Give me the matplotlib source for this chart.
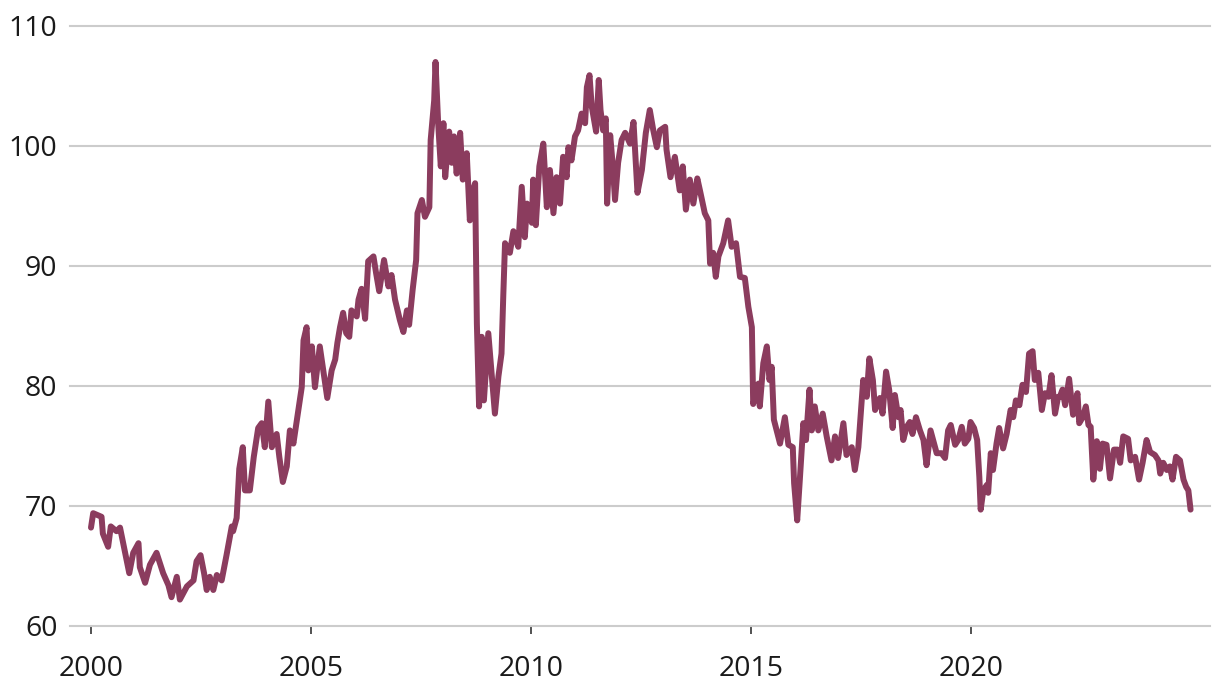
import matplotlib
matplotlib.use("Agg")
import matplotlib.pyplot as plt

# decimal year of each reading, and the index value
dates = [
    2000.00, 2000.05, 2000.24, 2000.27, 2000.39, 2000.45, 2000.58, 2000.66, 2000.87, 2000.96,
    2001.08, 2001.11, 2001.23, 2001.34, 2001.49, 2001.64, 2001.76, 2001.83, 2001.95, 2002.02,
    2002.18, 2002.33, 2002.40, 2002.49, 2002.57, 2002.63, 2002.70, 2002.78, 2002.86, 2002.97,
    2003.08, 2003.20, 2003.23, 2003.31, 2003.37, 2003.45, 2003.50, 2003.61, 2003.70, 2003.80,
    2003.88, 2003.95, 2004.03, 2004.11, 2004.22, 2004.28, 2004.36, 2004.45, 2004.52, 2004.60,
    2004.68, 2004.79, 2004.83, 2004.90, 2004.94, 2005.02, 2005.09, 2005.20, 2005.28, 2005.37,
    2005.47, 2005.55, 2005.60, 2005.66, 2005.73, 2005.80, 2005.87, 2005.92, 2006.04, 2006.08,
    2006.15, 2006.23, 2006.30, 2006.42, 2006.48, 2006.55, 2006.66, 2006.76, 2006.83, 2006.91,
    2007.02, 2007.10, 2007.18, 2007.23, 2007.31, 2007.39, 2007.42, 2007.52, 2007.59, 2007.69,
    2007.72, 2007.80, 2007.83, 2007.89, 2007.95, 2008.01, 2008.05, 2008.14, 2008.20, 2008.25,
    2008.31, 2008.39, 2008.45, 2008.54, 2008.61, 2008.68, 2008.73, 2008.77, 2008.82, 2008.88,
    2008.93, 2009.03, 2009.11, 2009.18, 2009.26, 2009.33, 2009.37, 2009.41, 2009.52, 2009.60,
    2009.71, 2009.79, 2009.86, 2009.91, 2010.02, 2010.05, 2010.11, 2010.19, 2010.28, 2010.36,
    2010.43, 2010.51, 2010.58, 2010.66, 2010.73, 2010.81, 2010.85, 2010.92, 2011.00, 2011.07,
    2011.15, 2011.23, 2011.27, 2011.33, 2011.38, 2011.48, 2011.54, 2011.58, 2011.64, 2011.70,
    2011.73, 2011.80, 2011.86, 2011.91, 2011.98, 2012.06, 2012.14, 2012.25, 2012.33, 2012.42,
    2012.52, 2012.61, 2012.70, 2012.78, 2012.86, 2012.93, 2013.05, 2013.08, 2013.17, 2013.27,
    2013.38, 2013.45, 2013.52, 2013.61, 2013.69, 2013.78, 2013.84, 2013.95, 2014.03, 2014.07,
    2014.14, 2014.20, 2014.26, 2014.37, 2014.48, 2014.56, 2014.66, 2014.75, 2014.86, 2014.94,
    2015.02, 2015.05, 2015.17, 2015.20, 2015.28, 2015.36, 2015.42, 2015.47, 2015.52, 2015.66,
    2015.77, 2015.85, 2015.95, 2015.98, 2016.05, 2016.11, 2016.19, 2016.25, 2016.33, 2016.38,
    2016.45, 2016.53, 2016.63, 2016.72, 2016.83, 2016.91, 2016.98, 2017.10, 2017.17, 2017.29,
    2017.36, 2017.44, 2017.55, 2017.63, 2017.69, 2017.77, 2017.82, 2017.93, 2017.99, 2018.07,
    2018.14, 2018.22, 2018.27, 2018.35, 2018.40, 2018.46, 2018.54, 2018.61, 2018.67, 2018.75,
    2018.84, 2018.92, 2018.99, 2019.08, 2019.16, 2019.22, 2019.33, 2019.41, 2019.48, 2019.54,
    2019.64, 2019.71, 2019.79, 2019.86, 2019.94, 2019.99, 2020.07, 2020.14, 2020.19, 2020.22,
    2020.28, 2020.36, 2020.39, 2020.45, 2020.50, 2020.58, 2020.64, 2020.73, 2020.81, 2020.90,
    2020.96, 2021.02, 2021.10, 2021.17, 2021.25, 2021.32, 2021.40, 2021.45, 2021.53, 2021.61,
    2021.68, 2021.76, 2021.83, 2021.91, 2021.98, 2022.02, 2022.08, 2022.14, 2022.23, 2022.32,
    2022.42, 2022.46, 2022.54, 2022.61, 2022.67, 2022.72, 2022.78, 2022.86, 2022.93, 2022.99,
    2023.08, 2023.16, 2023.25, 2023.33, 2023.39, 2023.46, 2023.57, 2023.63, 2023.73, 2023.82,
    2023.90, 2023.99, 2024.07, 2024.18, 2024.26, 2024.30, 2024.37, 2024.45, 2024.52, 2024.58,
    2024.66, 2024.75, 2024.83, 2024.89, 2024.94, 2024.99,
]
values = [
    68.2, 69.4, 69.1, 67.7, 66.6, 68.3, 67.9, 68.2, 64.4, 66.1,
    66.9, 64.9, 63.6, 65.1, 66.1, 64.4, 63.4, 62.4, 64.1, 62.2,
    63.3, 63.8, 65.4, 65.9, 64.4, 63.0, 64.1, 63.0, 64.25, 63.8,
    65.9, 68.3, 67.9, 69.0, 73.1, 74.9, 71.3, 71.3, 74.1, 76.5,
    76.9, 74.9, 78.7, 74.9, 76.0, 74.1, 72.0, 73.3, 76.3, 75.2,
    77.2, 79.9, 83.8, 84.9, 81.3, 83.3, 79.9, 83.3, 81.3, 79.0,
    81.3, 82.2, 83.6, 84.9, 86.1, 84.4, 84.1, 86.3, 85.8, 87.2,
    88.1, 85.6, 90.4, 90.8, 89.4, 87.9, 90.5, 88.3, 89.25, 87.2,
    85.5, 84.5, 86.3, 85.1, 88.0, 90.5, 94.4, 95.5, 94.1, 94.9,
    100.5, 103.8, 107.0, 101.9, 98.3, 101.9, 97.4, 101.2, 98.6, 100.8,
    97.7, 101.1, 97.2, 99.4, 93.8, 96.3, 96.9, 85.2, 78.3, 84.1,
    78.8, 84.4, 80.8, 77.7, 80.8, 82.7, 87.5, 91.9, 91.1, 92.9,
    91.6, 96.6, 92.4, 95.2, 93.6, 97.2, 93.4, 98.3, 100.2, 94.9,
    98.0, 94.4, 97.4, 95.2, 99.1, 97.4, 99.9, 98.8, 100.8, 101.3,
    102.7, 101.9, 104.9, 105.9, 103.3, 101.2, 105.5, 103.0, 101.3, 102.3,
    95.2, 100.9, 98.3, 95.5, 98.6, 100.5, 101.1, 100.2, 102.0, 96.1,
    98.0, 101.1, 103.0, 101.3, 99.9, 101.3, 101.6, 99.7, 97.4, 99.1,
    96.3, 98.3, 94.7, 97.2, 95.2, 97.3, 96.3, 94.4, 93.8, 90.2,
    91.1, 89.1, 90.8, 91.9, 93.8, 91.6, 91.9, 89.1, 89.0, 86.6,
    84.9, 78.5, 80.2, 78.3, 81.9, 83.3, 80.5, 81.6, 77.2, 75.2,
    77.4, 75.1, 74.9, 71.9, 68.8, 72.2, 76.9, 75.5, 79.7, 76.3,
    78.3, 76.3, 77.7, 75.8, 73.8, 75.8, 74.0, 76.9, 74.25, 74.9,
    73.0, 74.9, 80.5, 79.1, 82.3, 80.5, 78.0, 79.0, 77.7, 81.2,
    79.7, 76.5, 79.25, 77.4, 78.0, 75.5, 76.6, 77.0, 76.0, 77.4,
    76.3, 75.5, 73.4, 76.3, 75.2, 74.4, 74.4, 74.0, 76.3, 76.75,
    75.1, 75.5, 76.6, 75.2, 75.6, 77.0, 76.5, 75.5, 72.4, 69.7,
    71.3, 71.75, 71.1, 74.4, 73.0, 75.2, 76.5, 74.8, 76.0, 78.0,
    77.4, 78.8, 78.4, 80.1, 79.5, 82.7, 82.9, 80.5, 81.1, 78.0,
    79.4, 79.1, 80.9, 77.7, 79.1, 79.1, 79.7, 78.4, 80.6, 77.6,
    79.4, 76.9, 77.4, 78.3, 76.75, 76.6, 72.2, 75.4, 73.1, 75.2,
    75.1, 72.3, 74.7, 74.7, 73.6, 75.8, 75.6, 73.8, 74.1, 72.2,
    73.6, 75.5, 74.5, 74.25, 73.8, 72.7, 73.6, 73.0, 73.3, 72.2,
    74.1, 73.8, 72.2, 71.6, 71.3, 69.7,
]

year_ticks = [2000, 2005, 2010, 2015, 2020]
value_ticks = [60, 70, 80, 90, 100, 110]

LINE = "#8b3c5e"
GRID = "#cccccc"
INK = "#1a1a1a"

plt.rcParams["font.family"] = ["Open Sans", "DejaVu Sans"]

fig = plt.figure(figsize=(12.2, 6.92), dpi=100)
ax = fig.add_axes([70 / 1220, 66 / 692, 1140 / 1220, 600 / 692])

ax.plot(dates, values, color=LINE, linewidth=4.3, solid_joinstyle="round",
        solid_capstyle="round", zorder=3)

ax.set_xlim(1999.523, 2025.432)
ax.set_ylim(60, 110)
ax.set_xticks(year_ticks)
ax.set_xticklabels([str(y) for y in year_ticks])
ax.set_yticks(value_ticks)
ax.set_yticklabels([str(v) for v in value_ticks])

for s in ax.spines.values():
    s.set_visible(False)

ax.yaxis.grid(True, color=GRID, linewidth=1.5)
ax.xaxis.grid(False)
for gl in ax.get_ygridlines():
    gl.set_clip_on(False)
ax.set_axisbelow(True)

ax.tick_params(axis="y", length=0, pad=9, labelsize=20.5, labelcolor=INK)
ax.tick_params(axis="x", length=6, width=1.1, color="#222222", direction="out",
               pad=15, labelsize=20.5, labelcolor=INK)

fig.savefig("out.png", dpi=100)
